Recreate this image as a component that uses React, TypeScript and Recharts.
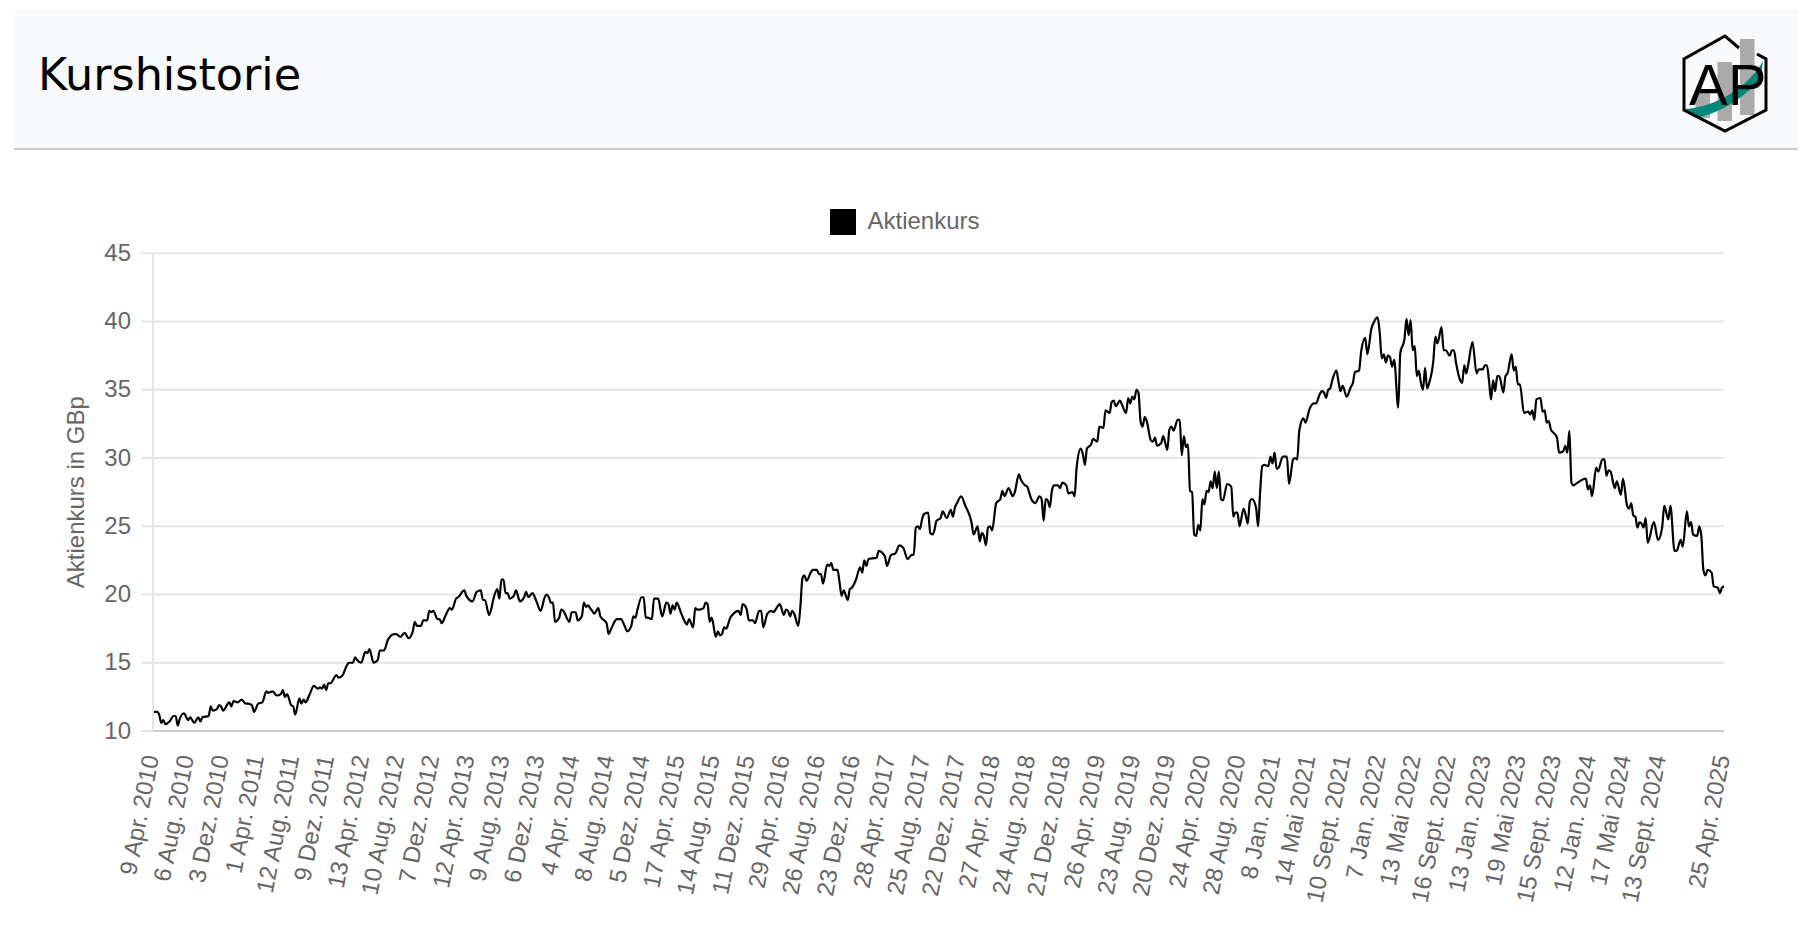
import React from "react";
import { LineChart, Line, XAxis, YAxis, CartesianGrid, Legend } from "recharts";

// [week index, price in GBp]
const prices2010to2013 = [
  [0,11.4],[2,11.4],[3,11.2],[4,10.6],[5,10.8],[6,10.5],[8,10.7],[10,11.1],[11,11.1],[12,10.4],[13,10.9],[15,11.3],[17,10.8],[18,11.0],[20,10.6],[22,11.0],[23,10.7],[24,11.0],[27,11.1],[28,11.8],[29,11.5],[31,11.6],[32,11.9],[33,11.8],[34,11.5],[37,12.1],[38,11.8],[39,12.2],[41,12.1],[43,12.3],[45,12.0],[46,12.0],[48,11.9],[49,11.4],[51,12.0],[53,12.1],[55,12.9],[56,12.8],[58,12.9],[60,12.6],[62,12.7],[63,13.0],[64,12.5],[65,12.7],[67,11.9],[68,11.8],[69,11.2],[71,12.4],[72,12.0],[73,12.3],[74,12.1],[76,12.7],[78,13.3],[80,13.1],[81,13.2],[82,13.1],[83,13.4],[84,13.0],[85,13.5],[86,13.5],[89,14.1],[90,13.9],[92,14.1],[94,14.8],[95,15.0],[97,15.0],[98,15.4],[99,15.2],[101,15.0],[103,15.8],[104,15.7],[105,16.0],[107,15.0],[109,15.2],[110,15.9],[112,15.9],[114,16.7],[117,17.1],[118,17.1],[120,16.9],[122,17.2],[124,16.8],[126,17.3],[127,18.0],[128,17.7],[130,17.7],[131,18.1],[133,18.1],[134,18.8],[135,18.7],[136,18.8],[138,18.2],[139,18.2],[140,17.9],[142,18.5],[144,19.0],[145,18.9],[147,19.7],[148,19.8],[151,20.3],[152,19.9],[155,19.5],[157,20.2],[159,20.3],[160,19.6],[161,19.6],[163,18.5],[164,18.9],[165,19.6],[167,20.4],[168,19.7],[169,21.1],[170,21.1],[171,20.1],[172,20.1],[173,19.7],[175,19.9],[176,20.3],[178,19.5],[180,19.8],[181,20.2],[182,19.8],[184,20.1],[186,19.5],[188,18.8],[190,19.8],[191,20.0],[192,19.8],
];
const prices2014to2016 = [
  [193,19.4],[194,19.4],[195,18.0],[197,18.3],[198,18.9],[199,18.8],[202,18.0],[203,18.7],[205,18.7],[206,18.1],[208,18.4],[209,19.4],[210,19.1],[211,19.2],[212,19.0],[213,18.8],[214,18.6],[216,19.0],[217,18.4],[220,17.9],[221,17.1],[222,17.4],[225,18.2],[227,18.2],[229,17.6],[230,17.3],[232,17.7],[233,18.4],[234,18.3],[235,18.9],[237,19.8],[238,19.8],[239,18.3],[240,18.3],[242,18.2],[243,19.7],[245,19.7],[247,18.4],[249,19.4],[250,19.3],[251,18.6],[252,19.2],[253,18.9],[254,19.4],[256,18.7],[258,18.0],[259,17.8],[260,18.2],[262,17.6],[263,19.0],[264,18.9],[265,18.9],[267,19.0],[268,19.4],[269,19.3],[270,18.0],[271,18.3],[273,16.9],[274,17.3],[275,17.0],[276,17.1],[277,17.6],[278,17.5],[280,18.3],[281,18.5],[284,18.8],[285,18.5],[286,19.3],[287,19.2],[288,18.9],[289,18.1],[291,18.1],[292,17.9],[294,18.8],[295,18.8],[296,17.6],[298,18.6],[300,18.8],[301,18.7],[302,18.9],[304,19.3],[306,18.5],[307,18.9],[308,18.8],[309,18.4],[310,18.8],[311,18.6],[313,17.7],[314,19.1],[315,21.2],[316,21.4],[317,21.0],[319,21.6],[320,21.8],[322,21.8],[323,21.5],[324,21.5],[325,20.8],[327,22.2],[328,22.1],[329,22.3],[330,21.8],[332,21.8],[333,20.9],[334,19.9],[335,20.3],[337,19.6],[338,20.4],[339,20.5],
];
const prices2017to2019 = [
  [341,21.1],[343,22.0],[344,21.6],[345,22.5],[346,22.1],[347,22.6],[351,22.7],[352,23.2],[355,22.8],[356,22.1],[358,22.9],[360,23.0],[362,23.6],[364,23.4],[366,22.6],[368,22.9],[369,22.9],[370,24.9],[371,25.0],[372,24.8],[373,25.5],[374,25.9],[376,26.0],[377,24.5],[378,24.4],[379,24.7],[380,25.4],[382,25.6],[383,26.1],[385,25.6],[387,26.2],[388,25.7],[389,26.4],[390,26.7],[392,27.2],[394,26.5],[395,26.2],[397,25.3],[398,24.4],[400,25.0],[401,23.9],[402,24.5],[403,24.3],[404,23.6],[405,24.9],[406,25.0],[407,24.7],[409,26.7],[411,27.0],[412,27.6],[413,27.2],[415,27.8],[417,27.2],[418,27.5],[420,28.8],[421,28.4],[423,28.0],[424,27.9],[426,27.0],[428,26.7],[430,27.2],[431,27.0],[432,25.4],[433,27.0],[434,26.9],[435,26.4],[436,27.6],[437,28.0],[439,28.0],[440,27.8],[441,28.2],[443,28.0],[444,27.4],[446,27.5],[447,27.2],[448,29.3],[450,30.7],[451,30.3],[452,29.5],[453,30.7],[455,31.0],[456,31.4],[458,31.2],[459,32.3],[461,32.2],[462,33.5],[464,33.3],[465,34.1],[466,34.2],[467,33.8],[469,34.2],[470,33.9],[472,33.3],[473,34.4],[474,34.0],[475,34.5],[476,34.3],[477,35.0],[478,34.8],[479,32.7],[480,32.3],[481,33.0],[482,32.7],[484,31.3],[485,31.2],[486,31.5],[487,30.9],[489,31.1],[490,31.6],[492,30.6],[493,32.1],[494,32.3],[495,32.0],[497,32.8],[498,32.8],
];
const prices2020to2022 = [
  [499,30.2],[500,31.6],[501,30.8],[502,31.0],[503,27.6],[504,27.5],[505,24.4],[506,24.3],[507,25.1],[508,24.7],[509,27.0],[510,26.6],[511,27.6],[512,27.5],[513,28.3],[514,27.8],[515,29.0],[516,27.8],[517,29.0],[518,27.0],[519,26.9],[521,28.1],[523,27.9],[524,25.7],[525,26.0],[526,26.0],[527,25.0],[529,26.3],[530,25.8],[531,25.2],[532,26.8],[533,27.0],[535,26.4],[536,25.0],[537,27.5],[538,29.4],[539,29.5],[541,29.4],[542,30.1],[543,29.6],[544,30.4],[545,29.2],[546,29.3],[548,30.1],[550,30.1],[551,28.1],[553,29.9],[554,30.0],[555,29.9],[556,32.0],[558,32.9],[559,32.6],[561,33.6],[563,34.0],[564,34.0],[566,34.7],[567,34.9],[568,34.8],[569,34.4],[570,35.0],[571,35.1],[572,35.7],[574,36.4],[575,35.6],[576,34.9],[577,35.3],[579,34.5],[581,35.2],[582,35.5],[583,36.3],[585,36.4],[586,37.8],[588,38.8],[589,37.6],[591,39.5],[592,39.9],[594,40.3],[595,39.2],[596,37.3],[597,37.6],[598,37.0],[599,37.5],[600,37.4],[601,36.7],[602,37.2],[604,33.7],[605,37.7],[607,38.7],[608,40.2],[609,39.0],[610,40.1],[611,37.9],[612,38.2],[613,36.0],[614,36.4],[615,35.5],[616,35.0],[617,36.6],[618,35.1],[619,35.5],[621,37.1],[622,38.9],[623,38.4],[625,39.6],[626,37.9],[627,37.9],[629,37.5],[630,37.9],[631,37.9],[632,37.0],[634,35.7],[635,35.5],[636,36.8],[637,36.2],[638,36.9],
];
const prices2023to2025 = [
  [640,38.5],[642,36.2],[643,36.5],[645,36.5],[646,36.8],[647,36.8],[648,35.7],[649,34.3],[650,35.7],[651,34.9],[652,36.0],[653,36.0],[655,34.8],[656,36.0],[657,36.2],[659,37.6],[660,36.4],[661,36.7],[662,35.4],[663,35.4],[665,33.3],[667,33.4],[668,33.2],[669,33.5],[670,32.8],[671,34.3],[673,34.4],[674,33.4],[675,33.5],[676,32.6],[677,32.7],[678,32.1],[679,31.9],[681,31.5],[682,30.4],[684,30.5],[685,30.9],[686,30.4],[687,32.0],[688,28.2],[689,28.0],[691,28.2],[695,28.5],[696,27.7],[697,28.0],[698,27.2],[700,29.3],[701,29.0],[703,29.9],[704,29.9],[705,28.7],[706,29.1],[707,29.0],[709,27.8],[710,28.3],[712,27.3],[713,28.5],[715,26.5],[716,26.3],[717,26.7],[718,25.8],[719,25.7],[720,24.9],[721,25.3],[722,25.2],[723,24.9],[724,25.6],[725,23.8],[728,25.3],[730,24.0],[732,24.9],[733,26.5],[735,25.5],[736,26.5],[738,23.2],[739,23.2],[741,24.0],[742,23.5],[744,26.1],[745,25.0],[746,25.3],[747,24.4],[749,24.3],[750,25.0],[751,24.3],[752,21.8],[753,21.4],[754,21.8],[756,21.6],[757,20.6],[759,20.5],[760,20.1],[761,20.5],[762,20.6],
];

const tickLabels = [
  "9 Apr. 2010","6 Aug. 2010","3 Dez. 2010","1 Apr. 2011","12 Aug. 2011","9 Dez. 2011","13 Apr. 2012","10 Aug. 2012","7 Dez. 2012",
  "12 Apr. 2013","9 Aug. 2013","6 Dez. 2013","4 Apr. 2014","8 Aug. 2014","5 Dez. 2014","17 Apr. 2015","14 Aug. 2015","11 Dez. 2015",
  "29 Apr. 2016","26 Aug. 2016","23 Dez. 2016","28 Apr. 2017","25 Aug. 2017","22 Dez. 2017","27 Apr. 2018","24 Aug. 2018","21 Dez. 2018",
  "26 Apr. 2019","23 Aug. 2019","20 Dez. 2019","24 Apr. 2020","28 Aug. 2020","8 Jan. 2021","14 Mai 2021","10 Sept. 2021","7 Jan. 2022",
  "13 Mai 2022","16 Sept. 2022","13 Jan. 2023","19 Mai 2023","15 Sept. 2023","12 Jan. 2024","17 Mai 2024","13 Sept. 2024","25 Apr. 2025",
];
const tickWeeks = [
  0,17,34,51,68,85,102,119,136,153,170,187,204,221,238,255,272,289,306,323,340,357,374,391,408,425,442,459,476,493,510,527,544,561,578,595,612,629,646,663,680,697,714,731,762,
];
const yTicks = [10, 15, 20, 25, 30, 35, 40, 45];

const data = [
  ...prices2010to2013,
  ...prices2014to2016,
  ...prices2017to2019,
  ...prices2020to2022,
  ...prices2023to2025,
].map(([week, price]) => ({ week, price }));

const labelByWeek = new Map(tickWeeks.map((w, i) => [w, tickLabels[i]]));

function DateTick({ x, y, payload }: any) {
  return (
    <text
      x={x + 6}
      y={y + 18}
      transform={`rotate(-79 ${x + 6} ${y + 18})`}
      textAnchor="end"
      fontSize={24}
      fontFamily="Liberation Sans"
      fill="#666"
    >
      {labelByWeek.get(payload.value)}
    </text>
  );
}

function Logo() {
  return (
    <svg width={140} height={120} style={{ position: "absolute", left: 1660, top: 20 }}>
      <rect x={35.5} y={73} width={14.5} height={25} fill="#aaa" />
      <rect x={57.5} y={42} width={14.5} height={59} fill="#aaa" />
      <rect x={80} y={19} width={14.5} height={76} fill="#aaa" />
      <path d="M24 89 C50 88 85 72 103 41 L101 56 C88 76 62 92 40 97 Z" fill="#00897b" />
      <path d="M79 28 L65 16 L24 39 L24 90 L65 111 L106 90 L106 39 L97 34" fill="none" stroke="#000" strokeWidth={3} />
      <text x={29} y={84.5} fontSize={58} fontFamily="Liberation Sans" fill="#000">AP</text>
    </svg>
  );
}

export default function App() {
  return (
    <div style={{ position: "absolute", left: 0, top: 0, width: 1814, height: 942, background: "#fff" }}>
      <div
        style={{
          position: "absolute",
          left: 14,
          top: 10,
          width: 1784,
          height: 138,
          background: "#f8f9fa",
          borderBottom: "2px solid #ccc",
          borderRadius: "4px 4px 0 0",
        }}
      />
      <div
        style={{
          position: "absolute",
          left: 38,
          top: 48,
          fontFamily: "DejaVu Sans",
          fontSize: 44.5,
          lineHeight: "54px",
          color: "#000",
        }}
      >
        Kurshistorie
      </div>
      <Logo />
      <div style={{ position: "absolute", left: 0, top: 0 }}>
        <LineChart
          width={1814}
          height={942}
          data={data}
          margin={{ top: 222, right: 90, bottom: 61, left: 63 }}
        >
          <CartesianGrid vertical={false} stroke="#e5e5e5" strokeWidth={2} />
          <XAxis
            dataKey="week"
            type="number"
            domain={[0, 762]}
            ticks={tickWeeks}
            interval={0}
            height={150}
            tick={DateTick}
            tickLine={false}
            axisLine={{ stroke: "#ccc", strokeWidth: 2 }}
          />
          <YAxis
            type="number"
            domain={[10, 45]}
            ticks={yTicks}
            interval={0}
            width={90}
            tickSize={12}
            tickMargin={10}
            tick={{ fontSize: 24, fontFamily: "Liberation Sans", fill: "#666", dy: -1 }}
            tickLine={{ stroke: "#e5e5e5", strokeWidth: 2 }}
            axisLine={{ stroke: "#e5e5e5", strokeWidth: 2 }}
            label={{
              value: "Aktienkurs in GBp",
              angle: -90,
              position: "center",
              dx: -33,
              fontSize: 24,
              fontFamily: "Liberation Sans",
              fill: "#666",
            }}
          />
          <Legend
            verticalAlign="top"
            iconSize={26}
            wrapperStyle={{ position: "absolute", top: 204, left: 3, width: 1814 }}
            formatter={(value: string) => (
              <span style={{ color: "#666", fontSize: 24, fontFamily: "Liberation Sans", marginLeft: 7, position: "relative", top: 3 }}>{value}</span>
            )}
          />
          <Line
            dataKey="price"
            name="Aktienkurs"
            type="monotone"
            stroke="#000"
            strokeWidth={2.2}
            dot={false}
            legendType="square"
            isAnimationActive={false}
          />
        </LineChart>
      </div>
    </div>
  );
}
